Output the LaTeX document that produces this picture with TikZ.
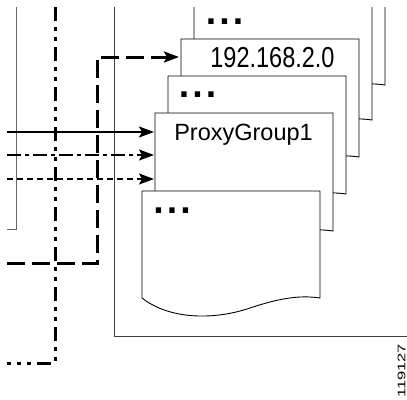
\documentclass[tikz,border=0pt]{standalone}
\usepackage{fontspec}
\setmainfont{Liberation Sans}
\newfontfamily\dotfont{DejaVu Sans}
\usetikzlibrary{arrows.meta}
\newcommand{\threedots}{{\dotfont\bfseries\fontsize{30}{30}\selectfont .\kern2.1pt.\kern2.1pt.}}
\tikzset{
	pics/docpage/.style={code={
		\filldraw[fill=white,draw=black,line width=0.9pt] (0,0) -- (178,0) -- (178,#1)
			.. controls (158,{#1-3}) and (138,#1) .. (108,{#1+10})
			.. controls (73,{#1+22}) and (28,{#1+22}) .. (0,#1) -- cycle;
	}}
}
\begin{document}
\begin{tikzpicture}[x=1pt,y=-1pt,
		wire/.style={line width=0.9pt,black!75},
		flow/.style={line width=1.8pt,-{Stealth[length=15pt,width=11pt,inset=3pt]}},
		heavy/.style={line width=3pt},
		every node/.style={inner sep=0pt}]
	\useasboundingbox (0,0) rectangle (407,399);
	\begin{scope}
		\clip (7,7) rectangle (407,399);
		% Các đường bên trái
		\coordinate (ltop) at (16,7);
		\coordinate (lend) at (7,229);
		\draw[wire,black!60] (ltop) |- (lend);
		\coordinate (rtop) at (114,7);
		\coordinate (rend) at (407,336);
		\draw[wire] (rtop) |- (rend);
		\coordinate (ddtop) at (55,7);
		\coordinate (ddin) at (7,363);
		\draw[heavy,dash pattern=on 14pt off 6pt on 4pt off 6pt on 4pt off 6pt] (ddtop) |- (ddin);
		% Các trang tài liệu
		\pic (pa) at (207,-33) {docpage=118};
		\pic (pb) at (194,2) {docpage=118};
		\pic (pc) at (181,39) {docpage=118};
		\pic (pd) at (168,76) {docpage=118};
		\pic (pe) at (155,113) {docpage=118};
		\pic (pf) at (142,191) {docpage=107};
		\node (dots1) at (224.5,21.5) {\threedots};
		\node[anchor=base] (net) at (272.5,67.7) {\fontsize{23.5}{28}\selectfont\scalebox{1}[1.23]{192.168.2.0}};
		\node (dots2) at (197.5,95) {\threedots};
		\node[anchor=base] (group) at (243.5,140) {\fontsize{23.5}{28}\selectfont ProxyGroup1};
		\node (dots3) at (172,210.5) {\threedots};
		% Các mũi tên
		\coordinate (din) at (7,263);
		\coordinate (dturn) at (97,57);
		\coordinate (in0) at (179,57);
		\draw[heavy,dash pattern=on 18pt off 7pt,-{Stealth[length=15pt,width=11pt,inset=3pt]}] (din) -| (dturn) -- (in0);
		\coordinate (s1) at (7,132);
		\coordinate (in1) at (154,132);
		\coordinate (s2) at (7,155);
		\coordinate (in2) at (154,155);
		\coordinate (s3) at (7,179);
		\coordinate (in3) at (154,179);
		\draw[flow] (s1) -- (in1);
		\draw[flow,dash pattern=on 14pt off 4pt on 4pt off 4pt] (s2) -- (in2);
		\draw[flow,dash pattern=on 6pt off 4pt] (s3) -- (in3);
	\end{scope}
	\node[rotate=90] (fig) at (401.5,371) {\scalebox{1.5}[1]{\fontsize{11}{11}\selectfont 119127}};
\end{tikzpicture}
\end{document}
